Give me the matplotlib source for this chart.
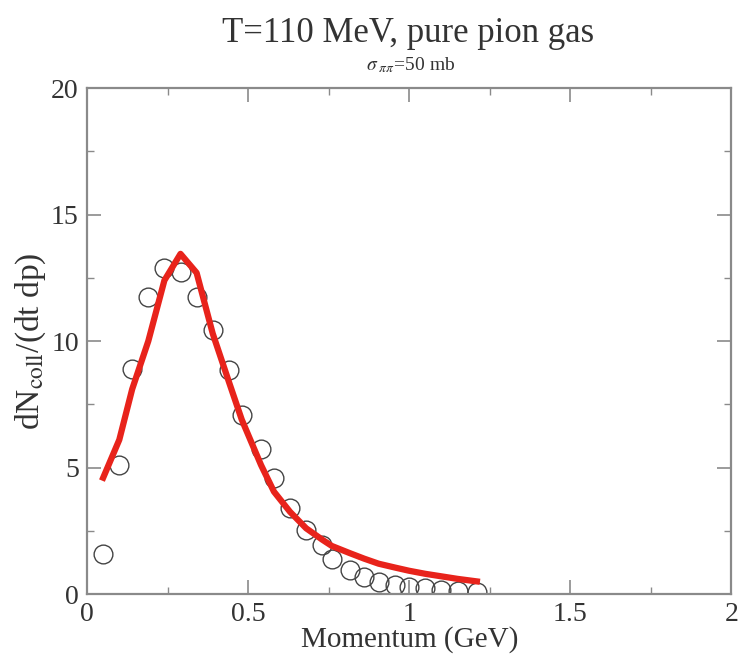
import matplotlib
matplotlib.use("Agg")
import matplotlib.pyplot as plt
from matplotlib.ticker import MultipleLocator

plt.rcParams["font.family"] = ["Liberation Serif", "DejaVu Serif"]
plt.rcParams["mathtext.fontset"] = "stix"

# momentum bins (GeV)
momentum = [0.05, 0.10, 0.14, 0.19, 0.24, 0.29, 0.34, 0.39, 0.44, 0.48,
            0.54, 0.58, 0.63, 0.68, 0.73, 0.76, 0.815, 0.86, 0.905, 0.955,
            1.00, 1.05, 1.10, 1.15, 1.21]
# open circles (simulation)
sim_rate = [1.6, 5.1, 8.9, 11.75, 12.9, 12.75, 11.75, 10.45, 8.85, 7.08,
            5.75, 4.58, 3.42, 2.53, 1.94, 1.38, 0.95, 0.68, 0.49, 0.36,
            0.28, 0.22, 0.16, 0.12, 0.10]
# red curve (analytic)
theory_rate = [4.6, 6.1, 8.1, 10.0, 12.4, 13.45, 12.7, 10.3, 8.4, 6.9,
               5.1, 4.05, 3.25, 2.6, 2.15, 1.9, 1.62, 1.4, 1.2, 1.05,
               0.92, 0.8, 0.7, 0.6, 0.5]

AXIS_GREY = "#8a8a8a"
TEXT_GREY = "#333333"

fig = plt.figure(figsize=(7.38, 6.63), dpi=100)
ax = fig.add_axes([0.118, 0.104, 0.873, 0.763])

ax.plot(momentum, sim_rate, linestyle="none", marker="o", markersize=13.5,
        markerfacecolor="none", markeredgecolor="#444444", markeredgewidth=1.0)
ax.plot(momentum, theory_rate, color="#e8231b", linewidth=4.5)

ax.set_xlim(0, 2)
ax.set_ylim(0, 20)
ax.xaxis.set_major_locator(MultipleLocator(0.5))
ax.xaxis.set_minor_locator(MultipleLocator(0.25))
ax.yaxis.set_major_locator(MultipleLocator(5))
ax.yaxis.set_minor_locator(MultipleLocator(2.5))
ax.xaxis.set_major_formatter(plt.FuncFormatter(lambda v, p: f"{v:g}"))

for side in ax.spines.values():
    side.set_color(AXIS_GREY)
    side.set_linewidth(1.6)

ax.tick_params(which="both", direction="in", top=True, right=True,
               color=AXIS_GREY, labelcolor=TEXT_GREY, labelsize=20, pad=6)
ax.tick_params(which="major", length=10, width=1.2)
ax.tick_params(which="minor", length=5, width=1.0)

ax.set_xlabel("Momentum (GeV)", fontsize=21, color=TEXT_GREY, labelpad=-1)
ax.set_ylabel(r"dN$_{\rm coll}$/(dt dp)", fontsize=24, color=TEXT_GREY, labelpad=2)

fig.text(0.553, 0.95, "T=110 MeV, pure pion gas", ha="center", va="center",
         fontsize=25, color=TEXT_GREY)
fig.text(0.556, 0.902, r"$\sigma_{\ \pi\pi}$=50 mb", ha="center", va="center",
         fontsize=14, color=TEXT_GREY)

plt.savefig("out.png", dpi=100)
plt.close(fig)
